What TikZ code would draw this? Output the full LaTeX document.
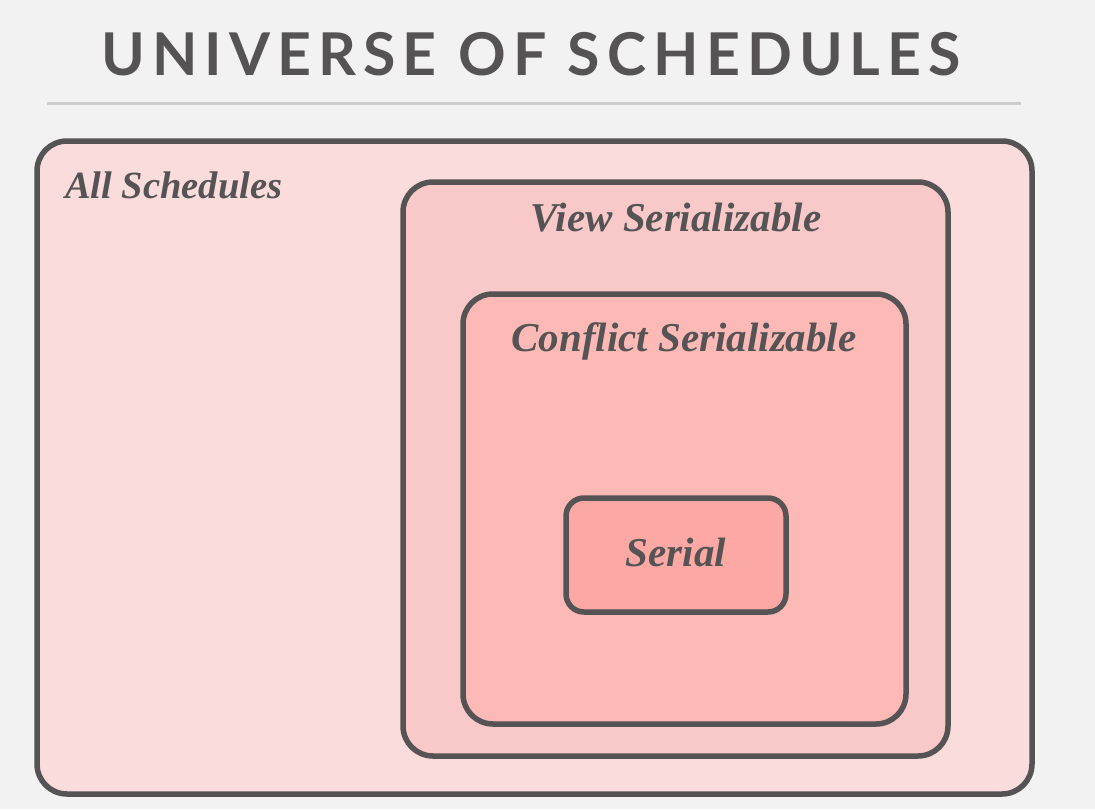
\documentclass[tikz,border=0pt]{standalone}
\usepackage{fontspec}
\setmainfont{Liberation Serif}
\newfontfamily\titlefont[LetterSpace=12]{Lato}
\definecolor{bg}{HTML}{F2F2F2}
\definecolor{ink}{HTML}{555353}
\definecolor{rulegray}{HTML}{CDCDCD}
\definecolor{fillall}{HTML}{F9DCDB}
\definecolor{fillview}{HTML}{F8C9C8}
\definecolor{fillconf}{HTML}{FDB9B6}
\definecolor{fillser}{HTML}{FCA8A4}
\tikzset{
  setbox/.style={draw=ink, line width=5.5pt, rounded corners=#1},
  setlabel/.style={text=ink, font=\fontsize{41}{44}\selectfont\bfseries\itshape, inner sep=0pt},
}
\begin{document}
\begin{tikzpicture}[x=1pt, y=-1pt]
  \useasboundingbox (0,0) rectangle (1095,809);
  \fill[bg] (0,0) rectangle (1095,809);
  % heading and rule
  \node[text=ink, font=\titlefont\bfseries\fontsize{59}{62}\selectfont, inner sep=0pt, anchor=base] (title) at (531,75) {UNIVERSE OF SCHEDULES};
  \draw[rulegray, line width=3pt] (47,103) -- (1021,103);
  % nested sets
  \draw[setbox=30, fill=fillall] (37,141) rectangle (1032,794);
  \draw[setbox=30, fill=fillview] (403,182) rectangle (948,756);
  \draw[setbox=30, fill=fillconf] (463,294) rectangle (906,724);
  \draw[setbox=18, fill=fillser] (566,498) rectangle (786,612);
  % labels
  \node[setlabel, font=\fontsize{38.5}{42}\selectfont\bfseries\itshape, anchor=base west] (all) at (65,198) {All Schedules};
  \node[setlabel, anchor=base] (view) at (676,231) {View Serializable};
  \node[setlabel, anchor=base] (conf) at (684,351) {Conflict Serializable};
  \node[setlabel, anchor=base] (ser) at (676,566) {Serial};
\end{tikzpicture}
\end{document}
